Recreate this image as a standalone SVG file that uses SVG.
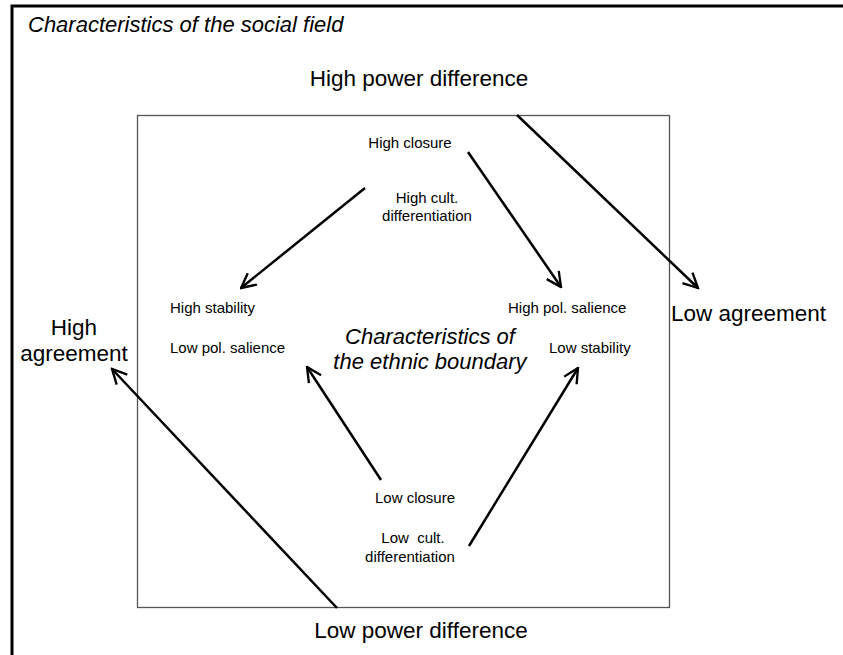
<svg xmlns="http://www.w3.org/2000/svg" width="843" height="655" viewBox="0 0 843 655">
<defs>
<style>
text{font-family:"Liberation Sans",Arial,sans-serif;fill:#000}
.big{font-size:22.5px}
.sm{font-size:15px}
.it{font-style:italic}
.arr{stroke:#000;stroke-width:2.5;fill:none;marker-end:url(#ah)}
</style>
<marker id="ah" viewBox="0 0 12 12" refX="11" refY="6" markerWidth="7" markerHeight="7" markerUnits="strokeWidth" orient="auto">
<path d="M1,1 L11,6 L1,11" fill="none" stroke="#000" stroke-width="1.6"/>
</marker>
</defs>
<rect width="843" height="655" fill="#fff"/>
<g id="frame">
<path d="M12,655 L12,6 L843,6" fill="none" stroke="#000" stroke-width="3"/>
<text x="28" y="32" class="it" font-size="22">Characteristics of the social field</text>
</g>
<g id="boundary">
<rect x="137.5" y="115.5" width="532" height="492" fill="none" stroke="#555" stroke-width="1.3"/>
<text x="430" y="344" class="it" font-size="22" text-anchor="middle">Characteristics of</text>
<text x="430" y="369" class="it" font-size="22" text-anchor="middle">the ethnic boundary</text>
</g>
<g id="high-power"><text x="419" y="86" class="big" text-anchor="middle">High power difference</text></g>
<g id="low-power"><text x="421" y="638" class="big" text-anchor="middle">Low power difference</text></g>
<g id="low-agreement"><text x="671" y="321" class="big">Low agreement</text></g>
<g id="high-agreement">
<text x="74" y="335" class="big" text-anchor="middle">High</text>
<text x="74" y="361" class="big" text-anchor="middle">agreement</text>
</g>
<g id="high-closure">
<text x="410" y="148" class="sm" text-anchor="middle">High closure</text>
<text x="427" y="203" class="sm" text-anchor="middle">High cult.</text>
<text x="427" y="221" class="sm" text-anchor="middle">differentiation</text>
</g>
<g id="high-stability">
<text x="170" y="313" class="sm">High stability</text>
<text x="170" y="353" class="sm">Low pol. salience</text>
</g>
<g id="high-salience">
<text x="508" y="313" class="sm">High pol. salience</text>
<text x="549" y="353" class="sm">Low stability</text>
</g>
<g id="low-closure">
<text x="415" y="503" class="sm" text-anchor="middle">Low closure</text>
<text x="413" y="543" class="sm" text-anchor="middle" xml:space="preserve">Low  cult.</text>
<text x="410" y="562" class="sm" text-anchor="middle">differentiation</text>
</g>
<g id="connectors">
<line class="arr" x1="517" y1="115" x2="698" y2="288"/>
<line class="arr" x1="468" y1="152" x2="561" y2="287"/>
<line class="arr" x1="365" y1="188" x2="241" y2="288"/>
<line class="arr" x1="381" y1="480" x2="307" y2="367"/>
<line class="arr" x1="469" y1="546" x2="578" y2="368"/>
<line class="arr" x1="337" y1="608" x2="112" y2="369"/>
</g>
</svg>
